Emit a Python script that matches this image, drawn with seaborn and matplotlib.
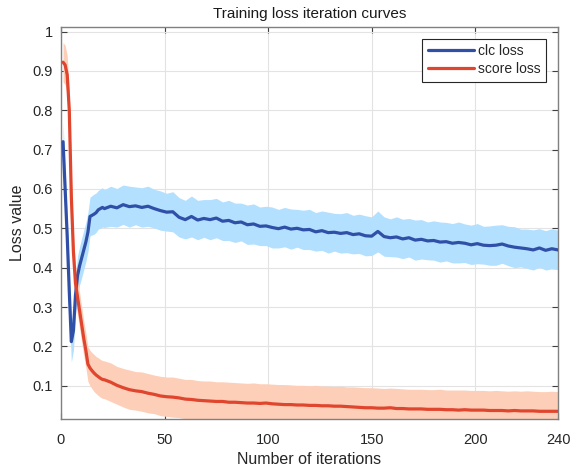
import numpy as np
import pandas as pd
import matplotlib
matplotlib.use("Agg")
import matplotlib.pyplot as plt
import seaborn as sns

# iterations: every step for 1..20, then every 3rd step up to 240
iters = list(range(1, 21)) + list(range(21, 241, 3))

clc_loss = [
    0.720, 0.600, 0.480, 0.340, 0.212, 0.240, 0.330, 0.380, 0.405, 0.425,
    0.445, 0.465, 0.490, 0.530, 0.533, 0.536, 0.540, 0.547, 0.550, 0.553,
    0.550, 0.556, 0.552, 0.560, 0.555, 0.557, 0.553, 0.556, 0.550, 0.545,
    0.541, 0.542, 0.528, 0.522, 0.530, 0.521, 0.525, 0.522, 0.526, 0.518,
    0.520, 0.514, 0.516, 0.509, 0.511, 0.505, 0.506, 0.502, 0.499, 0.503,
    0.498, 0.500, 0.496, 0.497, 0.491, 0.494, 0.489, 0.490, 0.487, 0.489,
    0.484, 0.486, 0.481, 0.480, 0.492, 0.479, 0.476, 0.478, 0.473, 0.476,
    0.470, 0.472, 0.468, 0.469, 0.465, 0.466, 0.462, 0.464, 0.462, 0.458,
    0.461, 0.457, 0.456, 0.457, 0.460, 0.455, 0.452, 0.450, 0.448, 0.445,
    0.450, 0.444, 0.448, 0.445,
]
clc_std = [
    0.050, 0.050, 0.048, 0.050, 0.052, 0.050, 0.050, 0.050, 0.049, 0.050,
    0.050, 0.050, 0.050, 0.049, 0.050, 0.051, 0.050, 0.049, 0.050, 0.050,
    0.048, 0.051, 0.049, 0.050, 0.052, 0.048, 0.050, 0.051, 0.049, 0.050,
    0.048, 0.051, 0.050, 0.049, 0.052, 0.050, 0.048, 0.051, 0.050, 0.049,
    0.051, 0.050, 0.048, 0.050, 0.051, 0.049, 0.050, 0.052, 0.049, 0.050,
    0.051, 0.048, 0.050, 0.051, 0.049, 0.050, 0.052, 0.048, 0.050, 0.051,
    0.049, 0.050, 0.051, 0.049, 0.052, 0.050, 0.048, 0.051, 0.050, 0.049,
    0.051, 0.050, 0.048, 0.050, 0.051, 0.049, 0.050, 0.052, 0.049, 0.050,
    0.051, 0.048, 0.050, 0.051, 0.049, 0.050, 0.052, 0.048, 0.050, 0.051,
    0.049, 0.050, 0.051, 0.050,
]

score_loss = [
    0.922, 0.915, 0.890, 0.800, 0.580, 0.440, 0.360, 0.325, 0.290, 0.255,
    0.220, 0.190, 0.155, 0.145, 0.138, 0.132, 0.127, 0.123, 0.119, 0.116,
    0.115, 0.109, 0.101, 0.095, 0.090, 0.087, 0.085, 0.081, 0.078, 0.074,
    0.072, 0.071, 0.069, 0.066, 0.065, 0.063, 0.062, 0.061, 0.060, 0.060,
    0.058, 0.058, 0.057, 0.056, 0.056, 0.055, 0.056, 0.054, 0.053, 0.052,
    0.052, 0.051, 0.051, 0.050, 0.050, 0.049, 0.049, 0.048, 0.048, 0.047,
    0.046, 0.045, 0.044, 0.044, 0.043, 0.043, 0.044, 0.042, 0.042, 0.041,
    0.041, 0.041, 0.040, 0.040, 0.040, 0.039, 0.039, 0.038, 0.039, 0.038,
    0.038, 0.038, 0.037, 0.037, 0.037, 0.036, 0.037, 0.036, 0.036, 0.036,
    0.035, 0.035, 0.035, 0.035,
]
score_std = [
    0.050, 0.050, 0.049, 0.050, 0.050, 0.048, 0.047, 0.046, 0.045, 0.045,
    0.044, 0.044, 0.044, 0.045, 0.046, 0.047, 0.047, 0.048, 0.048, 0.048,
    0.048, 0.049, 0.048, 0.049, 0.050, 0.049, 0.050, 0.050, 0.049, 0.050,
    0.050, 0.051, 0.050, 0.050, 0.051, 0.050, 0.050, 0.051, 0.050, 0.050,
    0.051, 0.050, 0.050, 0.050, 0.051, 0.050, 0.049, 0.050, 0.050, 0.051,
    0.050, 0.050, 0.050, 0.050, 0.051, 0.050, 0.050, 0.050, 0.051, 0.050,
    0.051, 0.051, 0.051, 0.051, 0.051, 0.050, 0.050, 0.051, 0.050, 0.050,
    0.050, 0.050, 0.050, 0.050, 0.051, 0.050, 0.050, 0.051, 0.050, 0.050,
    0.050, 0.050, 0.050, 0.051, 0.050, 0.050, 0.050, 0.050, 0.051, 0.050,
    0.050, 0.050, 0.051, 0.050,
]

series_names = ["clc loss", "score loss"]
line_colors = {"clc loss": "#3050a8", "score loss": "#e0452e"}
band_colors = {"clc loss": "#b3e0ff", "score loss": "#fdcfb9"}

df = pd.DataFrame({
    "iteration": iters * 2,
    "loss": clc_loss + score_loss,
    "std": clc_std + score_std,
    "series": ["clc loss"] * len(iters) + ["score loss"] * len(iters),
})

sns.set_theme(style="whitegrid")
plt.rcParams["font.family"] = ["Liberation Sans", "DejaVu Sans"]

fig = plt.figure(figsize=(5.7, 4.7), dpi=100)
ax = fig.add_axes([0.107, 0.109, 0.872, 0.834])

# shaded bands (mean +/- std), drawn first
for name in series_names:
    sub = df[df["series"] == name]
    ax.fill_between(sub["iteration"], sub["loss"] - sub["std"], sub["loss"] + sub["std"],
                    color=band_colors[name], linewidth=0, zorder=1)

sns.lineplot(data=df, x="iteration", y="loss", hue="series", hue_order=series_names,
             palette=line_colors, linewidth=2.3, ax=ax, zorder=3, estimator=None)

ax.set_xlim(0, 240)
ax.set_ylim(0.016, 1.012)
ax.set_xticks([0, 50, 100, 150, 200, 240])
ax.set_yticks(np.arange(0.1, 1.01, 0.1))
ax.set_yticklabels(["0.1", "0.2", "0.3", "0.4", "0.5", "0.6", "0.7", "0.8", "0.9", "1"])

ax.grid(True, color="#e3e3e3", linewidth=0.8)
ax.set_facecolor("white")
for side in ["left", "right", "top", "bottom"]:
    ax.spines[side].set_visible(True)
    ax.spines[side].set_color("#808080")
    ax.spines[side].set_linewidth(1.0)
ax.tick_params(axis="both", direction="in", length=4, width=0.8, color="#404040",
               labelsize=10.5, labelcolor="#262626", top=True, right=True,
               bottom=True, left=True, pad=6)
ax.tick_params(axis="x", pad=10)

ax.set_title("Training loss iteration curves", fontsize=11, color="#1a1a1a", pad=6)
ax.set_xlabel("Number of iterations", fontsize=11.5, color="#262626", labelpad=4)
ax.set_ylabel("Loss value", fontsize=11.5, color="#262626", labelpad=5)

leg = ax.legend(loc="upper right", fontsize=10, frameon=True, fancybox=False,
                handlelength=3.3, handletextpad=0.3, borderpad=0.4,
                labelspacing=0.3, borderaxespad=0.85)
leg.get_frame().set_edgecolor("#262626")
leg.get_frame().set_linewidth(0.8)
leg.get_frame().set_alpha(1)
leg.set_title(None)

fig.savefig("out.png", dpi=100)
